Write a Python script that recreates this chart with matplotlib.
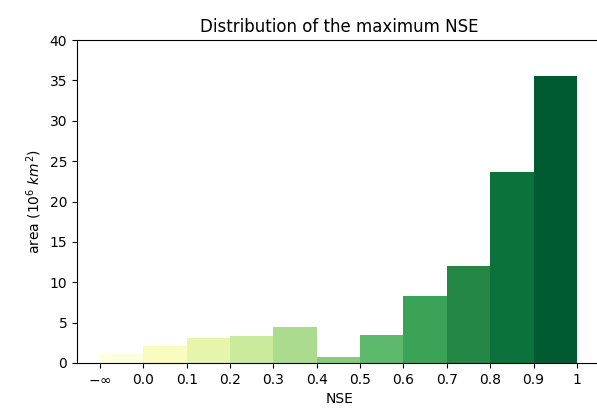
import matplotlib
matplotlib.use("Agg")
import matplotlib.pyplot as plt
import numpy as np

tick_labels = [r"$-\infty$", "0.0", "0.1", "0.2", "0.3", "0.4", "0.5", "0.6", "0.7", "0.8", "0.9", "1"]
areas = [1.1, 2.1, 3.15, 3.35, 4.4, 0.7, 3.5, 8.3, 12.05, 23.6, 35.5]

fig = plt.figure(figsize=(5.97, 4.17), dpi=100)
ax = fig.add_axes([77/597, 1 - 363/417, (602 - 77)/597, (363 - 40)/417])

n = len(areas)
colors = plt.cm.YlGn(np.linspace(0.02, 0.92, n))
edges = np.arange(n)
ax.bar(edges, areas, width=1.0, align="edge", color=colors, linewidth=0)

ax.set_xticks(np.arange(n + 1))
ax.set_xticklabels(tick_labels)
ax.set_xlim(-0.53, n + 0.58)
ax.set_ylim(0, 40)
ax.set_yticks(np.arange(0, 41, 5))
ax.set_xlabel("NSE")
ax.set_ylabel(r"area ($10^6\ km^2$)")
ax.set_title("Distribution of the maximum NSE")

fig.savefig("out.png", dpi=100)
